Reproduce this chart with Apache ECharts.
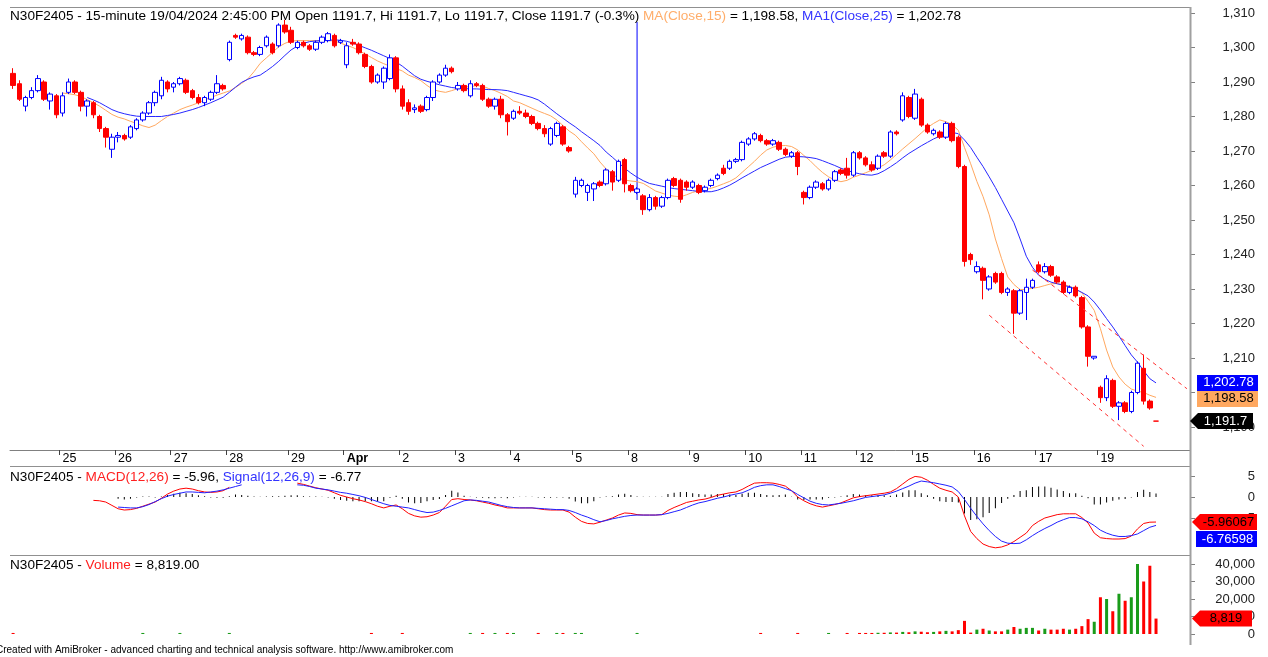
<!DOCTYPE html>
<html><head><meta charset="utf-8">
<script src="https://cdn.jsdelivr.net/npm/echarts@6/dist/echarts.min.js"></script>
<style>html,body{margin:0;padding:0;background:#fff;overflow:hidden}#c{width:1268px;height:657px}</style>
</head><body><div id="c"></div>
<script>
// ---------- data ----------
const days = ['22','25','26','27','28','29','Apr','2','3','4','5','8','9','10','11','12','15','16','17','19'];
const barsPerDay = [8,9,9,9,10,9,9,9,9,10,9,10,9,9,9,9,10,10,10,10];
const blankBars = 5;
// [open, high, low, close]
const candles = [
 // 22 Mar
 [1292.5,1294,1288,1289],[1289.5,1290.5,1284.5,1285],[1283,1286,1281.5,1285.5],[1285.5,1288.5,1285,1287.5],
 [1287.5,1292,1287,1291],[1290,1290.5,1284.5,1285],[1284.5,1287,1282,1286.5],[1286,1286.5,1279.5,1280.5],
 // 25
 [1281,1287,1280,1286],[1287,1291,1286.5,1290],[1290,1290.5,1286.5,1287],[1287,1287.5,1281.5,1283],
 [1283,1285,1280,1284.5],[1284,1284.5,1279.5,1280.5],[1280,1280.5,1275.5,1276.5],[1276.5,1277,1271,1274],[1270.5,1275,1268,1274],
 // 26
 [1274,1275.5,1272.5,1274.5],[1274.5,1275,1273,1273.5],[1274,1277.5,1273.5,1277],[1276.5,1279.5,1276,1279],
 [1279,1281.5,1278.5,1281],[1281,1284.5,1280.5,1284],[1284,1287.5,1283,1287],[1286,1291.5,1285,1290.5],[1290,1290.5,1287,1288],
 // 27
 [1288.5,1290,1287,1289.5],[1289.5,1291.5,1289,1291],[1290.5,1291,1286.5,1287],[1287.5,1288,1285,1285.5],
 [1285.5,1286.5,1283.5,1284],[1284,1286,1283,1285.5],[1285,1287.5,1284.5,1287],[1287,1292,1286.5,1289.5],[1289,1289.5,1287.5,1288],
 // 28
 [1296.5,1302,1296,1301.5],[1303.5,1304,1302.5,1303],[1302.5,1304,1302,1303.5],[1303,1303.5,1298,1298.5],[1298.5,1299,1297.5,1298],
 [1298,1300.5,1297.5,1300],[1300.5,1303.5,1300,1303],[1301,1301.5,1298,1298.5],[1300.5,1307,1300,1306.5],[1306.5,1308,1304,1304.5],
 // 29
 [1305,1306,1301,1301.5],[1300,1302,1299.5,1301.5],[1301.5,1302,1300,1300.5],[1300.5,1301,1299,1299.5],
 [1299.5,1302,1299,1301.5],[1301.5,1303.5,1301,1303],[1302,1304.5,1301.5,1304],[1303.5,1304,1300,1300.5],[1301.5,1302.5,1301,1302],
 // Apr 1
 [1295,1301.5,1294,1300.5],[1301.5,1302.5,1300.5,1301],[1301,1301.5,1298,1298.5],[1298,1298.5,1294,1294.5],
 [1294.5,1295,1289.5,1290],[1290,1292.5,1289.5,1292],[1290,1294.5,1288,1294],[1291,1298,1290.5,1297],[1297,1297.5,1287,1288],
 // 2
 [1288,1289,1282,1283],[1284,1285,1280.5,1281.5],[1282,1283.5,1281,1282.5],[1283,1283.5,1281,1281.5],
 [1282,1286,1281.5,1285.5],[1285.5,1290.5,1284.5,1290],[1290,1292.5,1289.5,1292],[1292,1295,1291.5,1294],[1294,1294.5,1292.5,1293],
 // 3
 [1288,1290,1287.5,1289],[1289,1289.5,1287,1287.5],[1286,1290.5,1285.5,1289.5],[1289.5,1290,1288.5,1289],
 [1289,1289.5,1284.5,1285],[1285,1285.5,1282.5,1283],[1283,1285.5,1282,1285],[1285,1286,1279.5,1280.5],[1280.5,1281,1274.5,1278.5],
 // 4
 [1279.5,1282,1279,1281.5],[1281.5,1283,1280.5,1281],[1281,1282,1279.5,1280],[1280,1280.5,1277.5,1278],[1278,1278.5,1276,1276.5],
 [1276.5,1277.5,1274,1275],[1272,1277,1271.5,1276.5],[1274.5,1278.5,1274,1278],[1277,1277.5,1271.5,1272],[1271,1271.5,1269.5,1270],
 // 5
 [1257.5,1262.5,1256.5,1261.5],[1260,1262,1259.5,1261.5],[1258,1260.5,1255.5,1260],[1259,1261,1255.5,1260.5],
 [1261,1261.5,1259.5,1260],[1260.5,1265,1260,1264.5],[1264,1264.5,1258.5,1261],[1261.5,1267.5,1261,1267],[1267.5,1268,1258,1260.5],
 // 8
 [1260,1260.5,1258,1258.5],[1258,1259.5,1257.5,1259],[1257,1257.5,1251.5,1253],[1253,1257.5,1252.5,1256.5],[1256.5,1257,1253,1254],
 [1254,1257,1253.5,1256.5],[1256.5,1262,1256,1261.5],[1262,1262.5,1259.5,1260],[1261.5,1262,1255,1256],[1261,1261.5,1258.5,1259.5],
 // 9
 [1259.5,1261.5,1259,1261],[1260,1260.5,1257.5,1258],[1258.5,1260,1258,1259.5],[1260,1262,1259.5,1261.5],
 [1262,1263.5,1261.5,1263],[1265,1266,1263,1263.5],[1265,1267.5,1264.5,1267],[1267,1268,1266.5,1267.5],[1267.5,1273,1267,1272.5],
 // 10
 [1272,1274,1271.5,1273.5],[1273.5,1275.5,1273,1275],[1274.5,1275,1272.5,1273],[1273,1273.5,1271.5,1272],
 [1272,1273.5,1271.5,1273],[1272.5,1273,1270,1270.5],[1270.5,1271,1268.5,1269],[1268.5,1270,1268,1269.5],[1269.5,1270,1263,1265.5],
 // 11
 [1258,1258.5,1254.5,1256.5],[1256.5,1260,1256,1259.5],[1259.5,1261.5,1259,1261],[1260.5,1261,1258.5,1259],
 [1259,1262,1258.5,1261.5],[1261.5,1264.5,1261,1264],[1264.5,1265,1263,1263.5],[1265,1268,1262,1263],[1263,1270,1262.5,1269.5],
 // 12
 [1269.5,1270,1267.5,1268],[1268,1268.5,1265.5,1266],[1266,1267,1264,1264.5],[1265,1269,1264.5,1268.5],
 [1269.5,1270,1268,1268.5],[1268.5,1276,1268,1275.5],[1275.5,1276,1274.5,1275],[1279,1287,1278.5,1286],[1285.5,1286,1279.5,1280],
 // 15
 [1279.5,1288,1279,1286.5],[1285,1285.5,1277,1277.5],[1277.5,1278,1275,1275.5],[1275,1276.5,1274.5,1276],[1275.5,1276,1273.5,1274],
 [1274,1278.5,1273.5,1278],[1278,1278.5,1272.5,1273],[1274,1274.5,1265,1265.5],[1265.5,1266,1236.5,1238],[1240,1240.5,1237,1238.5],
 // 16
 [1235,1238,1234.5,1236.5],[1236,1236.5,1227,1232.5],[1230,1234,1229.5,1233.5],[1234.5,1235,1231.5,1232],[1234.5,1235,1228.5,1229],
 [1229,1230.5,1228,1230],[1229.5,1230,1217,1223],[1223,1230,1222.5,1229.5],[1229,1233,1221,1230.5],[1230.5,1233,1230,1232.5],
 // 17
 [1237,1238,1234.5,1235],[1235,1237.5,1234.5,1236.5],[1236.5,1237,1233.5,1234],[1233.5,1234,1231.5,1232],[1232,1232.5,1228.5,1229],
 [1229,1231,1228.5,1230.5],[1230.5,1231,1227.5,1228],[1227.5,1228,1218.5,1219],[1219,1219.5,1207.5,1210.5],[1210,1210.5,1209.5,1210.5],
 // 19
 [1201.5,1202,1197,1198.5],[1198.5,1205,1197.5,1204],[1203.5,1204,1195.5,1196],[1196,1197.5,1192,1197],[1197,1197.5,1194,1194.5],
 [1194.5,1200.5,1194,1200],[1200,1209,1199.5,1208.5],[1207,1211,1196.5,1197.5],[1197.5,1198,1195,1195.5],[1191.7,1191.7,1191.7,1191.7]
];
const ma15 = [null,null,null,null,null,null,null,null,
 1286.8,1286.6,1286.3,1285.8,1284.9,1284,1283,1281.8,1280.6,1279.8,1279.3,1278.6,1278,1277.3,1276.8,1277.5,1278.8,1280,
 1281,1282,1282.7,1283.3,1284,1284.8,1285.5,1286.2,1286.8,1287.4,1288.4,1289.6,1290.9,1293,1295.4,1297,1298.6,1300.2,1301.2,
 1301.9,1302,1302,1302,1302,1302,1302,1301.9,1301.3,1300.6,1300,1299.1,1298.1,1297.1,1296.1,1295.3,1294.6,1293.9,1293.2,1292,
 1291.3,1290.4,1289,1287.8,1287.3,1287,1287.5,1288.1,1288.5,1288.7,1288.9,1288.8,1288.1,1287.5,1286.7,1285.8,1284.5,1284,1283.2,1282.4,
 1281.6,1280.9,1280.2,1279,1277.4,1275.8,1274.6,1272.7,1270.9,1269.2,1266.8,1264.8,1263.3,1262.1,1261.6,1261.3,1261.1,1260.6,1259.5,1258.4,
 1257.8,1257.2,1256.9,1256.7,1257.3,1258,1258.5,1258.8,1259.2,1259.8,1260.5,1261.2,1262.2,1263.8,1265.4,1267,1268.8,1270.3,1271.1,1271.5,
 1271.6,1271.3,1270.3,1268.7,1267.2,1265.4,1263.8,1262.5,1261.6,1261.1,1261.5,1262.4,1263,1263.7,1264.4,1265.1,1266,1267.4,1269,1270.6,
 1272.1,1273.6,1275.2,1276.8,1278,1279,1278.5,1277.6,1276,1271,1266.3,1261.2,1256.8,1251.5,1244.5,1238.8,1233.5,1231.3,1229.8,1229.9,
 1230.2,1230.5,1231,1231.5,1231.6,1231.3,1230.8,1230,1228.9,1226.4,1223.8,1218.5,1212.3,1207.4,1204.5,1202.4,1201,1200.4,1200,1199.2,1198.58];
const ma25 = [null,null,null,null,null,null,null,null,null,null,null,null,
 1285.5,1284.8,1284,1283,1282,1281.3,1280.8,1280.4,1280.1,1280,1280,1280,1280,1280.3,1280.6,1281,1281.5,1282,
 1282.6,1283.3,1284,1284.8,1285.6,1287,1288.5,1289.9,1290.8,1291.5,1292,1293.2,1294.5,1296,1297.7,1299.3,1300.4,1301.2,1301.7,1301.9,
 1302,1302.1,1302.2,1302.1,1301.8,1301.3,1300.6,1299.9,1299.2,1298.4,1297.6,1296.8,1295.8,1294.6,1293.2,1291.8,1290.8,1290.2,1289.7,1289.2,
 1288.8,1288.4,1288.2,1288.1,1288,1288,1287.9,1287.8,1287.8,1287.7,1287.5,1287,1286.5,1286,1285.5,1284.8,1283.6,1282.2,1280.8,1279.5,
 1278.2,1277,1275.6,1274.3,1273,1271.6,1269.7,1268.2,1266.6,1265,1263.6,1262.4,1261.4,1260.6,1260.2,1259.8,1259.4,1259.1,1258.9,1258.7,
 1258.5,1258.3,1258.2,1258.2,1258.6,1259.3,1260.1,1261.1,1262.2,1263.2,1264.2,1265.2,1266,1266.8,1267.6,1268.2,1268.4,1268.4,1268.3,1268.1,
 1267.8,1267.2,1266.5,1265.8,1265,1264.4,1263.8,1263.4,1263.1,1263,1263.4,1264.3,1265.4,1266.6,1268,1269.3,1270.4,1271.5,1272.5,1273.5,
 1274.3,1274.9,1275.4,1275,1273.2,1271,1268.2,1265.5,1262.5,1259.4,1256,1252.6,1249.2,1244.5,1239.5,1236.3,1234,1232.8,1232,1231.5,
 1231.1,1230.6,1229.9,1229,1228,1226.2,1223.9,1221.4,1219,1216.4,1213.6,1210.9,1208.8,1206.3,1204,1202.78];
const macd = [null,null,null,null,null,null,null,null,null,null,null,null,null,
 -0.8,-0.9,-1.2,-2.0,-2.8,-3.1,-3.0,-2.7,-2.2,-1.7,-1.2,-0.3,0.7,1.4,1.9,2.1,1.9,1.5,1.2,1.1,1.2,1.5,2.3,
 null,null,null,null,null,null,null,null,null,null,
 3.3,3.0,2.6,2.2,1.9,1.6,1.0,0.4,0.0,-0.4,
 -0.7,-1.1,-1.6,-2.2,-2.6,-2.2,-1.9,-2.8,-3.9,-4.5,
 -4.8,-4.7,-4.3,-3.7,-2.2,-0.6,-0.4,-0.6,-0.7,-0.9,
 -1.2,-1.5,-1.9,-2.2,-2.6,-2.6,-2.6,-2.6,-2.6,-2.8,
 -3.0,-3.1,-3.1,-3.1,-3.6,-4.8,-5.8,-6.3,-6.4,-6.0,
 -5.5,-5.0,-4.3,-3.8,-3.9,-4.2,-4.3,-4.3,-4.3,-4.2,
 -3.2,-2.5,-1.9,-1.3,-1.0,-0.7,-0.5,-0.1,0.4,0.7,
 1.0,1.2,1.8,2.6,3.3,3.4,3.4,3.3,3.0,2.6,
 1.5,0.0,-0.9,-1.6,-2.1,-2.4,-2.1,-1.8,-1.4,-0.8,
 -0.2,0.1,0.3,0.5,0.7,0.9,1.2,2.0,3.1,4.2,
 4.9,4.7,4.0,3.0,2.1,1.6,1.2,0.0,-4.5,-8.2,
 -9.9,-11.2,-11.8,-12.1,-11.9,-11.4,-10.6,-9.6,-8.6,-6.8,
 -5.8,-5.0,-4.6,-4.2,-4.0,-4.0,-4.0,-4.9,-6.2,-8.6,
 -9.7,-9.9,-10.0,-10.0,-9.9,-9.3,-7.6,-6.3,-6.0,-5.96067];
const signal = [null,null,null,null,null,null,null,null,null,null,null,null,null,null,null,null,null,
 -2.4,-2.5,-2.6,-2.6,-2.3,-1.8,-1.1,-0.4,0.2,0.6,0.9,
 1.2,1.2,1.1,1.0,1.2,1.4,1.7,2.1,2.5,2.9,
 null,null,null,null,null,null,null,null,
 2.9,2.8,2.5,2.1,1.9,1.7,1.4,1.1,0.9,0.6,
 0.3,-0.1,-0.6,-1.1,-1.6,-2.0,-2.2,-2.4,-2.6,-3.0,
 -3.4,-3.7,-3.6,-3.2,-2.7,-2.1,-1.5,-0.9,-0.7,-0.8,
 -1.0,-1.2,-1.6,-2.0,-2.3,-2.5,-2.6,-2.6,-2.6,-2.7,
 -2.8,-2.9,-3.0,-3.0,-3.2,-3.7,-4.3,-4.8,-5.4,-5.9,
 -5.6,-5.2,-4.9,-4.6,-4.4,-4.3,-4.3,-4.3,-4.3,-4.2,
 -3.9,-3.5,-3.1,-2.5,-1.9,-1.4,-1.1,-0.7,-0.3,0.0,
 0.4,0.7,1.0,1.6,2.3,2.7,2.9,2.9,2.5,2.0,
 1.5,0.6,-0.2,-1.0,-1.5,-1.8,-1.9,-1.7,-1.5,-1.2,
 -0.9,-0.5,-0.1,0.1,0.3,0.5,0.9,1.4,2.0,2.6,
 3.3,3.8,3.6,3.4,3.1,2.8,2.4,1.3,-0.6,-2.7,
 -4.6,-6.4,-8.0,-9.4,-10.5,-11.0,-11.1,-11.0,-10.2,-9.2,
 -8.3,-7.5,-6.8,-6.0,-5.4,-4.9,-4.9,-5.2,-5.9,-6.8,
 -7.9,-8.6,-9.1,-9.4,-9.4,-9.2,-8.8,-8.0,-7.2,-6.76598];
const histogram = [null,null,null,null,null,null,null,null,null,null,null,null,null,null,null,null,null,
 -0.4,-0.6,-0.4,-0.1,0.1,0.1,-0.1,0.1,0.5,0.8,
 1.0,0.9,0.7,0.4,0.2,-0.1,-0.2,-0.2,0.2,0.6,
 0.5,0.3,0.1,0.05,0.1,0.2,0.2,0.3,0.4,0.4,
 0.2,0.1,0.1,0.05,-0.1,-0.4,-0.7,-0.9,-1.0,-1.0,
 -1.0,-1.0,-1.1,-1.0,-0.2,0.3,-0.4,-1.3,-1.5,-1.4,
 -1.0,-0.7,-0.5,0.5,1.5,1.1,0.3,0.05,-0.1,-0.2,
 -0.3,-0.3,-0.2,-0.3,-0.1,0.05,0.05,0.05,-0.1,-0.2,
 -0.2,-0.1,-0.1,-0.4,-1.1,-1.5,-1.5,-1.0,-0.1,0.1,
 0.2,0.6,0.8,0.5,0.1,0.05,0.05,0.05,0.05,0.7,
 1.0,1.2,1.2,0.9,0.7,0.6,0.6,0.7,0.7,0.6,
 0.5,0.8,1.0,1.0,0.7,0.5,0.4,0.5,0.6,0.05,
 -0.6,-0.7,-0.6,-0.6,-0.6,-0.2,-0.1,0.1,0.4,0.7,
 0.6,0.4,0.4,0.4,0.4,0.3,0.6,1.1,1.6,1.6,
 0.9,0.4,-0.4,-1.0,-1.2,-1.2,-1.3,-3.9,-5.5,-5.3,
 -4.8,-3.8,-2.7,-1.4,-0.4,0.5,1.4,1.6,2.4,2.5,
 2.5,2.2,1.8,1.4,0.9,0.9,0.3,-0.3,-1.8,-1.8,
 -1.3,-0.9,-0.6,-0.5,-0.1,1.2,1.7,1.2,0.81];
const volume = [
 600,0,0,0,0,0,0,0,0,0, 0,0,0,0,0,0,0,0,0,0, 0,600,0,0,0,0,0,600,0,0, 0,0,0,0,0,600,0,0,0,0,
 0,0,0,0,0,0,0,0,0,0, 0,0,0,0,0,0,0,0,600,0, 0,0,0,600,0,0,0,0,0,0, 0,0,0,0,600,0,600,0,600,0,
 600,600,0,0,0,600,0,0,600,600, 0,600,600,0,0,0,0,0,0,0, 0,600,0,0,0,0,0,0,0,0, 0,0,0,0,0,0,0,0,0,0,
 0,600,0,0,0,0,0,600,0,0, 0,0,600,0,0,600,0,600,600,600, 700,700,900,800,1200,1000,1500,1300,1000,1200,
 1500,1800,1500,2200,7500,800,2500,3000,2000,1500, 1500,2500,4000,3000,3500,3500,2000,3000,2500,2500,
 3000,2500,3000,4500,8500,7000,21000,20000,13000,23000, 19000,21000,40000,30000,39000,8819];
// trend channel (category index, price) and selected-bar marker line
const trendUpper = [[165,1235.5],[190,1201.1]];
const trendLower = [[158,1222.4],[183,1184.4]];
const selectorLine = [[101,1307.4],[101,1255.8]];
const priceTicks = [1190,1200,1210,1220,1230,1240,1250,1260,1270,1280,1290,1300,1310];
const macdTicks = [5,0,-5];
const volTicks = [0,10000,20000,30000,40000];

// ---------- build ----------
const cats = [];
const dayStart = {};
let n0 = 0;
days.forEach((d,k)=>{ dayStart[n0]=d; for(let j=0;j<barsPerDay[k];j++) cats.push(d+'#'+(j+1)); n0+=barsPerDay[k]; });
for (let j=0;j<blankBars;j++) cats.push('blank'+j);

const candleData = candles.map(b=>[b[0],b[3],b[2],b[1]]);
const volColors = candles.map((b,i)=>{
  if (b[3]>b[0]) return '#1a9c1a';
  if (b[3]<b[0]) return '#ff0000';
  return (i>0 && candles[i-1][3]>b[3]) ? '#ff0000' : '#1a9c1a';
});
const toCat = arr => arr.map(p=>[cats[p[0]], p[1]]);
const FONT = "'Liberation Sans', Arial, sans-serif";
const TS = 13.6;
const fmt = v => v.toLocaleString('en-US');
const rs = c => ({color:c, fontSize:TS, fontWeight:'normal', fontFamily:FONT, lineHeight:16});

const yBase = {
  position:'right', axisLine:{show:false},
  axisTick:{show:true, length:5, lineStyle:{color:'#808080'}},
  splitLine:{show:false},
  axisLabel:{align:'right', margin:65, color:'#222', fontSize:13, fontFamily:FONT}
};
const isDay = i => i>0 && dayStart[i]!==undefined;

const last = candles.length-1;
const chart = echarts.init(document.getElementById('c'), null, {renderer:'canvas'});
const option = {
  animation:false,
  backgroundColor:'#ffffff',
  title:[
    {left:10, top:8, padding:0, text:
      '{k|N30F2405 - 15-minute 19/04/2024 2:45:00 PM Open '+candles[last][0]+', Hi '+candles[last][1]+', Lo '+candles[last][2]+', Close '+candles[last][3]+' (-0.3%) }{o|MA(Close,15)}{k| = '+fmt(ma15[last])+', }{b|MA1(Close,25)}{k| = '+fmt(ma25[last])+'}',
     textStyle:{fontWeight:'normal', rich:{k:rs('#000'),o:rs('#ffad6a'),b:rs('#3333ff')}}},
    {left:10, top:469, padding:0, text:
      '{k|N30F2405 - }{r|MACD(12,26)}{k| = '+macd[last].toFixed(2)+', }{b|Signal(12,26,9)}{k| = '+signal[last].toFixed(2)+'}',
     textStyle:{fontWeight:'normal', rich:{k:rs('#000'),r:rs('#ff2020'),b:rs('#3333ff')}}},
    {left:10, top:557, padding:0, text:
      '{k|N30F2405 - }{r|Volume}{k| = '+volume[last].toLocaleString('en-US',{minimumFractionDigits:2})+'}',
     textStyle:{fontWeight:'normal', rich:{k:rs('#000'),r:rs('#ff2020')}}},
    {left:-4, top:645, padding:0, text:'Created with AmiBroker - advanced charting and technical analysis software. http://www.amibroker.com',
     textStyle:{color:'#000', fontSize:10, fontWeight:'normal', fontFamily:FONT}}
  ],
  grid:[
    {left:10, right:78, top:7, height:443},
    {left:10, right:78, top:476, height:84},
    {left:10, right:78, top:564, height:70}
  ],
  xAxis:[
    {type:'category', gridIndex:0, data:cats, boundaryGap:true,
     axisLine:{show:true, lineStyle:{color:'#808080', width:1}},
     axisTick:{show:true, length:5, interval:(i)=>isDay(i), lineStyle:{color:'#404040'}},
     axisLabel:{show:true, interval:(i)=>isDay(i), align:'left', margin:2, color:'#000', fontSize:12.5, fontFamily:FONT,
       formatter:(v,i)=> dayStart[i]==='Apr' ? '{b|Apr}' : (dayStart[i]||''),
       rich:{b:{fontWeight:'bold', fontSize:12.5, fontFamily:FONT, color:'#000'}}},
     splitLine:{show:false}},
    {type:'category', gridIndex:1, data:cats, boundaryGap:true, show:false},
    {type:'category', gridIndex:2, data:cats, boundaryGap:true, show:false}
  ],
  yAxis:[
    Object.assign({}, yBase, {type:'value', gridIndex:0, min:1183.33, max:1311.74, scale:true,
      axisLabel:Object.assign({}, yBase.axisLabel, {customValues:priceTicks, formatter:fmt}),
      axisTick:Object.assign({}, yBase.axisTick, {customValues:priceTicks})}),
    Object.assign({}, yBase, {type:'value', gridIndex:1, min:-15, max:5,
      axisLabel:Object.assign({}, yBase.axisLabel, {customValues:macdTicks}),
      axisTick:Object.assign({}, yBase.axisTick, {customValues:macdTicks})}),
    Object.assign({}, yBase, {type:'value', gridIndex:2, min:0, max:40000,
      axisLabel:Object.assign({}, yBase.axisLabel, {customValues:volTicks, formatter:fmt}),
      axisTick:Object.assign({}, yBase.axisTick, {customValues:volTicks})})
  ],
  series:[
    {type:'line', xAxisIndex:0, yAxisIndex:0, data:toCat(selectorLine), showSymbol:false, lineStyle:{color:'#0000ff', width:1}, z:1},
    {type:'line', xAxisIndex:0, yAxisIndex:0, data:ma15, showSymbol:false, lineStyle:{color:'#ffa860', width:1}, z:2},
    {type:'line', xAxisIndex:0, yAxisIndex:0, data:ma25, showSymbol:false, lineStyle:{color:'#2828ff', width:1}, z:2},
    {type:'candlestick', xAxisIndex:0, yAxisIndex:0, data:candleData, barWidth:5,
     itemStyle:{color:'#ffffff', color0:'#ff0000', borderColor:'#0000ff', borderColor0:'#ff0000', borderWidth:1}, z:3},
    {type:'line', xAxisIndex:0, yAxisIndex:0, data:toCat(trendUpper), showSymbol:false, lineStyle:{color:'#ff3030', width:1, type:[4,4]}, z:4},
    {type:'line', xAxisIndex:0, yAxisIndex:0, data:toCat(trendLower), showSymbol:false, lineStyle:{color:'#ff3030', width:1, type:[4,4]}, z:4},
    {type:'bar', xAxisIndex:1, yAxisIndex:1, data:histogram, barWidth:1, itemStyle:{color:'#000000'}},
    {type:'line', xAxisIndex:1, yAxisIndex:1, data:macd, showSymbol:false, lineStyle:{color:'#ff0000', width:1}},
    {type:'line', xAxisIndex:1, yAxisIndex:1, data:signal, showSymbol:false, lineStyle:{color:'#2020ff', width:1}},
    {type:'bar', xAxisIndex:2, yAxisIndex:2, data:volume, barWidth:3,
     itemStyle:{color:(p)=>volColors[p.dataIndex]}}
  ]
};
chart.setOption(option);

// ---------- frame lines and last-value boxes ----------
function txt(x,y,s,fill){
  return {type:'text', z:101, style:{text:s, x:x, y:y, fill:fill, font:'13px '+FONT,
    align:'center', verticalAlign:'middle', textAlign:'center', textVerticalAlign:'middle'}};
}
function rectBox(x0,x1,yc,fill,tcol,s){
  return [{type:'rect', z:100, shape:{x:x0,y:yc-8,width:x1-x0,height:16}, style:{fill:fill}}, txt((x0+x1)/2+1,yc,s,tcol)];
}
function arrowBox(x0,x1,yc,fill,tcol,s){
  return [{type:'polygon', z:100, shape:{points:[[x0,yc],[x0+8,yc-8],[x1,yc-8],[x1,yc+8],[x0+8,yc+8]]}, style:{fill:fill}}, txt((x0+x1)/2+4,yc,s,tcol)];
}
function hline(y,x0,x1){ return {type:'line', z:50, shape:{x1:x0,y1:y,x2:x1,y2:y}, style:{stroke:'#909090', lineWidth:1}}; }
const yp = v => chart.convertToPixel({yAxisIndex:0}, v);
const ym = v => chart.convertToPixel({yAxisIndex:1}, v);
const yv = v => chart.convertToPixel({yAxisIndex:2}, v);
let g = [
  hline(7.5,10,1190), hline(466.5,10,1190), hline(555.5,10,1190),
  {type:'line', z:50, shape:{x1:1190.5,y1:7,x2:1190.5,y2:645}, style:{stroke:'#a0a0a0', lineWidth:2}}
];
const yBlue = yp(ma25[last]), yOr = yp(ma15[last]), yCl = yp(candles[last][3]);
g = g.concat(rectBox(1197,1258,yBlue,'#0000ff','#ffffff',fmt(ma25[last])));
g = g.concat(rectBox(1197,1258,Math.max(yOr,yBlue+16),'#ffa860','#000000',fmt(ma15[last])));
g = g.concat(arrowBox(1190,1253,yCl,'#000000','#ffffff',fmt(candles[last][3])));
const yM = ym(macd[last]);
g = g.concat(arrowBox(1192,1257,yM,'#ff0000','#000000',String(macd[last])));
g = g.concat(rectBox(1196,1257,Math.max(ym(signal[last]),yM+17),'#0000ff','#ffffff',String(signal[last])));
g = g.concat(arrowBox(1192,1252,yv(volume[last]),'#ff0000','#000000',fmt(volume[last])));
chart.setOption({graphic:{elements:g}});
</script>
</body></html>
